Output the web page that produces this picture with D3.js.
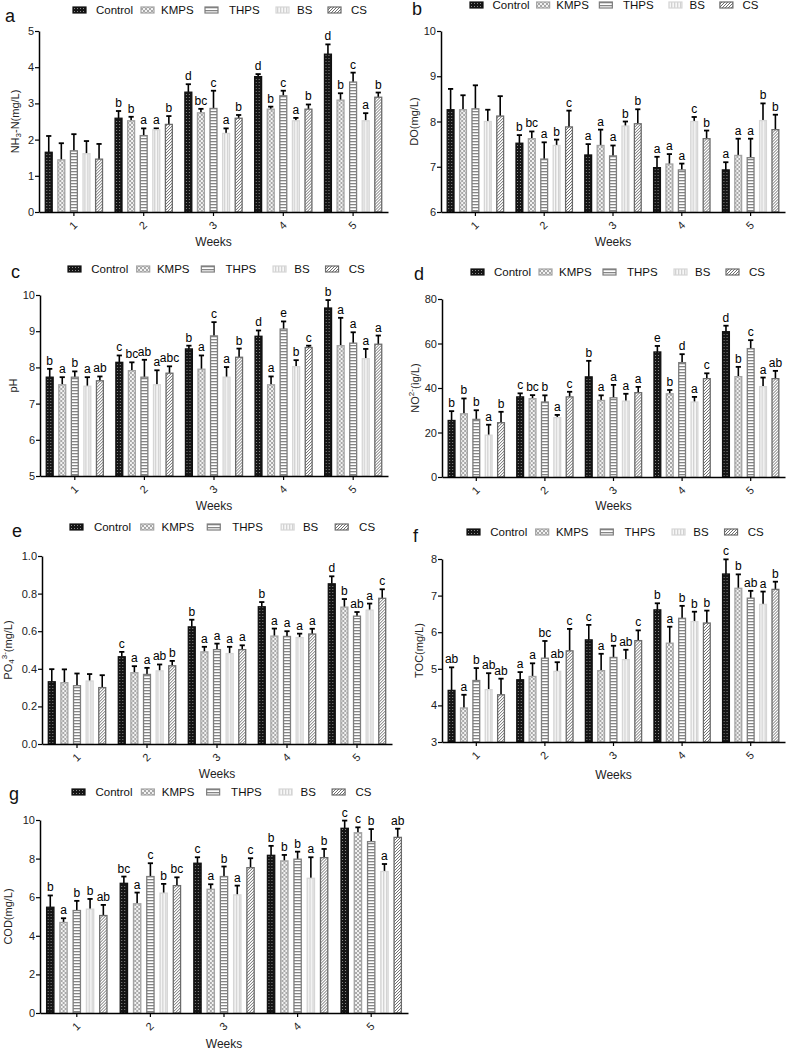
<!DOCTYPE html>
<html>
<head>
<meta charset="utf-8">
<script src="https://cdn.jsdelivr.net/npm/d3@7"></script>
<style>
body{margin:0;background:#fff;}
text{font-family:"Liberation Sans",Arial,Helvetica,sans-serif;}
</style>
</head>
<body>
<script>
// ---------------- DATA ----------------
const weeks = ["1","2","3","4","5"];
const series = ["Control","KMPS","THPS","BS","CS"];

// rows = weeks, columns = series (Control, KMPS, THPS, BS, CS)
const nh3Mean = [[1.65,1.44,1.69,1.61,1.46],[2.59,2.52,2.11,2.27,2.42],[3.31,2.74,2.86,2.17,2.59],[3.74,2.84,3.21,2.52,2.84],[4.36,3.09,3.59,2.52,3.17]];
const nh3Err  = [[0.45,0.46,0.46,0.35,0.42],[0.20,0.11,0.20,0.04,0.23],[0.22,0.11,0.49,0.14,0.09],[0.07,0.07,0.14,0.08,0.13],[0.27,0.19,0.26,0.21,0.13]];
const nh3Sig  = [["","","","",""],["b","b","a","a","b"],["d","bc","c","a","b"],["d","b","c","a","b"],["d","b","c","a","b"]];
const nh3Ticks = [0,1,2,3,4,5];

const doMean = [[8.26,8.26,8.28,8.00,8.12],[7.52,7.62,7.17,7.47,7.88],[7.26,7.47,7.24,7.90,7.95],[6.98,7.06,6.93,8.00,7.62],[6.93,7.25,7.20,8.02,7.82]];
const doErr  = [[0.46,0.32,0.52,0.26,0.44],[0.18,0.16,0.37,0.13,0.36],[0.24,0.35,0.23,0.10,0.32],[0.24,0.22,0.14,0.10,0.18],[0.17,0.37,0.42,0.38,0.33]];
const doSig  = [["","","","",""],["b","bc","a","b","c"],["a","a","a","b","b"],["a","a","a","c","b"],["a","a","a","b","b"]];
const doTicks = [6,7,8,9,10];

const phMean = [[7.73,7.52,7.73,7.48,7.63],[8.14,7.91,7.73,7.52,7.84],[8.51,7.95,8.87,7.73,8.28],[8.86,7.52,9.06,8.02,8.55],[9.64,8.60,8.67,8.24,8.64]];
const phErr  = [[0.23,0.21,0.16,0.25,0.12],[0.19,0.23,0.48,0.40,0.19],[0.09,0.38,0.38,0.28,0.24],[0.16,0.23,0.21,0.18,0.05],[0.22,0.77,0.30,0.27,0.24]];
const phSig  = [["b","a","b","a","ab"],["c","bc","ab","a","abc"],["b","a","c","a","b"],["d","a","e","b","c"],["b","a","a","a","a"]];
const phTicks = [5,6,7,8,9,10];

const no2Mean = [[25.4,28.4,25.9,18.8,24.4],[36.0,35.2,33.7,26.7,36.0],[45.0,34.4,35.6,34.1,37.9],[56.2,37.4,51.4,33.7,44.2],[65.3,45.1,57.7,40.6,44.2]];
const no2Err  = [[4.2,6.9,4.1,4.7,4.9],[1.6,1.6,3.0,1.2,2.3],[7.2,2.3,5.8,3.3,2.6],[2.7,1.7,3.8,2.3,2.4],[2.7,4.4,3.8,4.1,3.5]];
const no2Sig  = [["b","b","b","a","b"],["c","bc","b","a","c"],["b","a","a","a","a"],["e","b","d","a","c"],["d","b","c","a","ab"]];
const no2Ticks = [0,20,40,60,80];

const po4Mean = [[0.331,0.326,0.310,0.335,0.300],[0.464,0.379,0.370,0.389,0.416],[0.623,0.490,0.502,0.481,0.502],[0.730,0.574,0.572,0.566,0.585],[0.852,0.728,0.680,0.712,0.775]];
const po4Err  = [[0.067,0.071,0.065,0.037,0.066],[0.026,0.035,0.035,0.034,0.026],[0.038,0.027,0.032,0.036,0.023],[0.025,0.040,0.028,0.021,0.028],[0.040,0.043,0.022,0.035,0.048]];
const po4Sig  = [["","","","",""],["c","a","a","ab","b"],["b","a","a","a","a"],["b","a","a","a","a"],["d","b","ab","a","c"]];
const po4Ticks = [0.0,0.2,0.4,0.6,0.8,1.0];

const tocMean = [[4.41,3.93,4.68,4.43,4.29],[4.70,4.79,5.29,4.93,5.49],[5.79,4.95,5.31,5.25,5.77],[6.61,5.70,6.38,6.29,6.25],[7.59,7.20,6.93,6.76,7.17]];
const tocErr  = [[0.63,0.36,0.34,0.45,0.44],[0.21,0.36,0.47,0.25,0.60],[0.41,0.46,0.32,0.27,0.28],[0.18,0.45,0.34,0.27,0.34],[0.40,0.38,0.20,0.35,0.21]];
const tocSig  = [["ab","a","b","ab","ab"],["a","a","bc","ab","c"],["c","a","b","ab","c"],["b","a","b","b","b"],["c","b","ab","a","b"]];
const tocTicks = [3,4,5,6,7,8];

const codMean = [[5.48,4.69,5.31,5.38,5.05],[6.72,5.66,7.07,6.21,6.60],[7.76,6.41,7.07,6.12,7.53],[8.17,7.88,7.97,6.98,8.05],[9.57,9.34,8.88,7.33,9.10]];
const codErr  = [[0.61,0.22,0.50,0.53,0.55],[0.35,0.58,0.69,0.48,0.43],[0.31,0.26,0.52,0.48,0.49],[0.49,0.31,0.39,1.09,0.45],[0.40,0.28,0.65,0.39,0.45]];
const codSig  = [["b","a","b","b","ab"],["bc","a","c","b","bc"],["c","a","b","a","c"],["b","b","b","a","b"],["c","c","b","a","ab"]];
const codTicks = [0,2,4,6,8,10];

// ---------------- STYLE / LAYOUT ----------------
const strokeCol = {Control:"#111", KMPS:"#a3a3a3", THPS:"#7d7d7d", BS:"#d6d6d6", CS:"#6b6b6b"};
const swOff = [0,68,132,203,255];
const txOff = [23,88,156,224,278];

const panels = [
 {letter:"a", mean:nh3Mean, err:nh3Err, sig:nh3Sig, ticks:nh3Ticks, fmt:d3.format("d"), title:[["NH",0],["3",1],["-N(mg/L)",0]],
  L:39,R:388,T:31,B:212, lx:5,ly:22, gx:73,gy:10,gs:1.0, tx:16, wy:246},
 {letter:"b", mean:doMean, err:doErr, sig:doSig, ticks:doTicks, fmt:d3.format("d"), title:[["DO(mg/L)",0]],
  L:441,R:785,T:31,B:212, lx:412,ly:15, gx:470,gy:5,gs:0.98, tx:415, wy:246},
 {letter:"c", mean:phMean, err:phErr, sig:phSig, ticks:phTicks, fmt:d3.format("d"), title:[["pH",0]],
  L:40,R:388,T:295,B:476, lx:11,ly:278, gx:68,gy:269,gs:1.01, tx:14, wy:510},
 {letter:"d", mean:no2Mean, err:no2Err, sig:no2Sig, ticks:no2Ticks, fmt:d3.format("d"), title:[["NO",0],["2-",2],["(ìg/L)",0]],
  L:442,R:785,T:299,B:477, lx:414,ly:280, gx:471,gy:272,gs:1.0, tx:416, wy:510},
 {letter:"e", mean:po4Mean, err:po4Err, sig:po4Sig, ticks:po4Ticks, fmt:d3.format(".1f"), title:[["PO",0],["4",1],["3-",3],["(mg/L)",4]],
  L:42,R:392,T:556,B:744, lx:12,ly:537, gx:70,gy:527,gs:1.04, tx:9, wy:778},
 {letter:"f", mean:tocMean, err:tocErr, sig:tocSig, ticks:tocTicks, fmt:d3.format("d"), title:[["TOC(mg/L)",0]],
  L:442,R:785,T:559,B:742, lx:413,ly:542, gx:467,gy:532,gs:1.01, tx:420, wy:779},
 {letter:"g", mean:codMean, err:codErr, sig:codSig, ticks:codTicks, fmt:d3.format("d"), title:[["COD(mg/L)",0]],
  L:40,R:408,T:820,B:1013, lx:9,ly:800, gx:72,gy:792,gs:1.02, tx:9, wy:1048}
];

const svg = d3.select("body").append("svg").attr("width",794).attr("height",1050);

// patterns
const defs = svg.append("defs");
function pat(id,w,h){return defs.append("pattern").attr("id",id).attr("patternUnits","userSpaceOnUse").attr("width",w).attr("height",h);}
let p = pat("p-Control",3,3);
p.append("rect").attr("width",3).attr("height",3).attr("fill","#151515");
p.append("rect").attr("x",1).attr("y",1).attr("width",1).attr("height",1).attr("fill","#8a8a8a");
p = pat("p-KMPS",4,4);
p.append("rect").attr("width",4).attr("height",4).attr("fill","#a8a8a8");
p.append("rect").attr("x",0).attr("y",0).attr("width",2).attr("height",2).attr("fill","#f2f2f2");
p.append("rect").attr("x",2).attr("y",2).attr("width",2).attr("height",2).attr("fill","#f2f2f2");
p = pat("p-THPS",4,3);
p.append("rect").attr("width",4).attr("height",3).attr("fill","#fff");
p.append("rect").attr("y",0).attr("width",4).attr("height",1.3).attr("fill","#858585");
p = pat("p-BS",3,3);
p.append("rect").attr("width",3).attr("height",3).attr("fill","#f7f7f7");
p.append("rect").attr("x",0).attr("width",1.3).attr("height",3).attr("fill","#d2d2d2");
p = pat("p-CS",3,3);
p.append("rect").attr("width",3).attr("height",3).attr("fill","#fff");
p.append("path").attr("d","M0,3L3,0M-1,1L1,-1M2,4L4,2").attr("stroke","#6e6e6e").attr("stroke-width",1);

panels.forEach(P=>{
  const g = svg.append("g");
  const x0 = d3.scaleBand().domain(weeks).range([P.L,P.R]).paddingInner(0.18).paddingOuter(0.09);
  const x1 = d3.scaleBand().domain(series).range([0,x0.bandwidth()]).paddingInner(0.45).paddingOuter(0);
  const y = d3.scaleLinear().domain(d3.extent(P.ticks)).range([P.B,P.T]);
  const base = y.domain()[0];

  // bars
  weeks.forEach((w,wi)=>{
    const gg = g.append("g").attr("transform",`translate(${x0(w)},0)`);
    series.forEach((s,si)=>{
      const v = P.mean[wi][si], e = P.err[wi][si];
      const bx = x1(s), bw = x1.bandwidth(), cx = bx + bw/2;
      // error bar (upper)
      gg.append("line").attr("x1",cx).attr("x2",cx).attr("y1",y(v)).attr("y2",y(v+e))
        .attr("stroke","#000").attr("stroke-width",1.6);
      gg.append("line").attr("x1",cx-2.6).attr("x2",cx+2.6).attr("y1",y(v+e)).attr("y2",y(v+e))
        .attr("stroke","#000").attr("stroke-width",1.8);
      gg.append("rect").attr("x",bx).attr("y",y(v)).attr("width",bw).attr("height",y(base)-y(v))
        .attr("fill",`url(#p-${s})`).attr("stroke",strokeCol[s]).attr("stroke-width",1.3);
      const lab = P.sig[wi][si];
      if(lab){
        gg.append("text").attr("x",cx).attr("y",y(v+e)-4).attr("text-anchor","middle")
          .attr("font-size",12).attr("fill","#000").text(lab);
      }
    });
  });

  // y axis
  const ya = g.append("g").attr("transform",`translate(${P.L},0)`)
    .call(d3.axisLeft(y).tickValues(P.ticks).tickFormat(P.fmt).tickSize(4).tickSizeOuter(0));
  ya.select(".domain").attr("stroke","#000").attr("stroke-width",1.5);
  ya.selectAll(".tick line").attr("stroke","#000").attr("stroke-width",1.2);
  ya.selectAll(".tick text").attr("font-size",11).attr("fill","#222").attr("font-family","Liberation Sans, Arial, sans-serif").attr("x",-5);

  // x axis
  const xa = g.append("g").attr("transform",`translate(0,${P.B})`)
    .call(d3.axisBottom(x0).tickSize(4).tickSizeOuter(0));
  xa.select(".domain").attr("stroke","#000").attr("stroke-width",1.5);
  xa.selectAll(".tick line").attr("stroke","#000").attr("stroke-width",1.2);
  xa.selectAll(".tick text").attr("font-size",11).attr("fill","#222").attr("font-family","Liberation Sans, Arial, sans-serif")
    .attr("y",0).attr("dy",0).attr("text-anchor","middle")
    .attr("transform","translate(0,14) rotate(-45)").attr("dominant-baseline","middle");

  // axis titles
  g.append("text").attr("x",(P.L+P.R)/2).attr("y",P.wy).attr("text-anchor","middle")
    .attr("font-size",12).attr("fill","#222").text("Weeks");
  const yt = g.append("text").attr("transform",`translate(${P.tx},${(P.T+P.B)/2}) rotate(-90)`)
    .attr("text-anchor","middle").attr("font-size",11).attr("fill","#222").attr("dominant-baseline","middle");
  P.title.forEach(([t,k])=>{
    const ts = yt.append("tspan").text(t);
    if(k===1) ts.attr("font-size",8).attr("dy",3);
    if(k===2) ts.attr("font-size",8).attr("dy",-4);
    if(k===3) ts.attr("font-size",8).attr("dy",-7);
    if(k===4) ts.attr("dy",4);
    if(k===0 && t.startsWith("(") ) ts.attr("dy",4);
    if(k===0 && t.startsWith("-")) ts.attr("dy",-3);
  });

  // panel letter
  g.append("text").attr("x",P.lx).attr("y",P.ly).attr("font-size",18).attr("fill","#111").text(P.letter);

  // legend
  const lg = g.append("g").attr("transform",`translate(${P.gx},${P.gy})`);
  series.forEach((s,si)=>{
    lg.append("rect").attr("x",swOff[si]*P.gs).attr("y",-3).attr("width",13).attr("height",6)
      .attr("fill",`url(#p-${s})`).attr("stroke",strokeCol[s]).attr("stroke-width",1.2);
    lg.append("text").attr("x",txOff[si]*P.gs).attr("y",4).attr("font-size",11.5).attr("fill","#111").text(s);
  });
});
</script>
</body>
</html>
